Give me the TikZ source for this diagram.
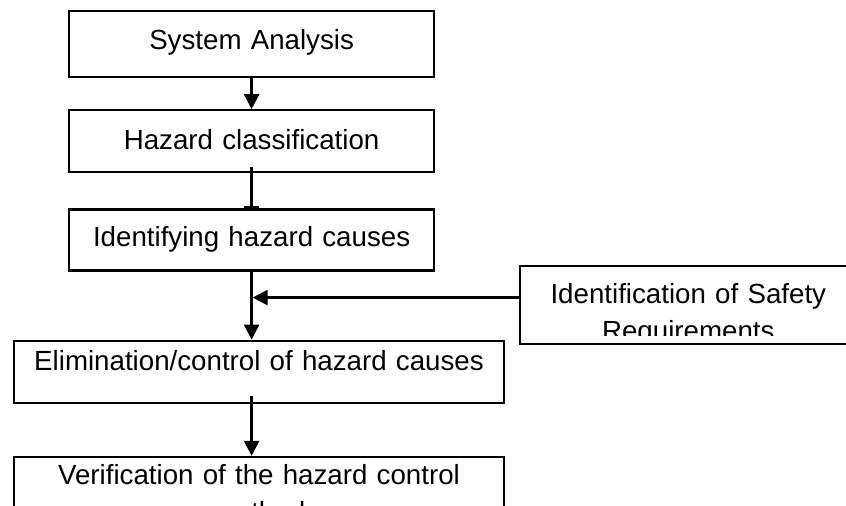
\documentclass[tikz,border=0pt]{standalone}
\usepackage{fontspec}
\setmainfont{Liberation Sans}
\usetikzlibrary{arrows.meta, positioning}

\begin{document}
\begin{tikzpicture}[
    block/.style={rectangle, draw, fill=white, line width=2.2bp, inner sep=0pt, align=center, font={\fontsize{27.8pt}{37pt}\selectfont}},
    narrow/.style={block, text width=365bp},
    wide/.style={block, text width=490bp},
    arrow/.style={-{Triangle[length=15bp, width=15bp]}, line width=2.4bp},
    stub/.style={-{Bar[width=15bp, line width=2.6bp]}, line width=2.4bp}
]
    \useasboundingbox (0,0) rectangle (846bp,-506bp);
    \clip (0,0) rectangle (846bp,-506bp);

    \node[narrow, text height=38bp, text depth=28bp, anchor=north west] (sys) at (68bp,-10bp) {System Analysis};
    \node[narrow, below=31bp of sys, text height=39bp, text depth=23bp] (haz) {Hazard classification};
    \node[narrow, below=35bp of haz, text height=37bp, text depth=24bp] (idf) {Identifying hazard causes};
    \node[wide, below=68bp of idf, xshift=7.4bp, text height=30bp, text depth=32bp] (elim) {Elimination/control of hazard causes};
    \node[wide, below=52bp of elim, text height=28bp, text depth=100bp] (verif) {Verification of the hazard control\\method};

    % safety box, its text is cut off at the bottom
    \node[block, minimum width=336bp, minimum height=78bp, anchor=north west] (safety) at ([xshift=84bp, yshift=7bp]idf.south east) {};
    \begin{scope}
        \clip (safety.north west) rectangle ([yshift=9bp]safety.south east);
        \node[block, draw=none, fill=none, text width=336bp, text height=38bp, anchor=north] (safetytext) at (safety.north) {Identification of Safety\\Requirements};
    \end{scope}

    \coordinate[below=26bp of idf.south] (join);

    \draw[arrow] (sys) -- (haz);
    \draw[stub, shorten <=-6bp] (haz) -- (idf);
    \draw[arrow] (idf) -- (idf.south |- elim.north);
    \draw[arrow] (safety.west |- join) -- ([xshift=1bp]join);
    \draw[arrow, shorten <=-8bp] (idf.south |- elim.south) -- (idf.south |- verif.north);
\end{tikzpicture}
\end{document}
